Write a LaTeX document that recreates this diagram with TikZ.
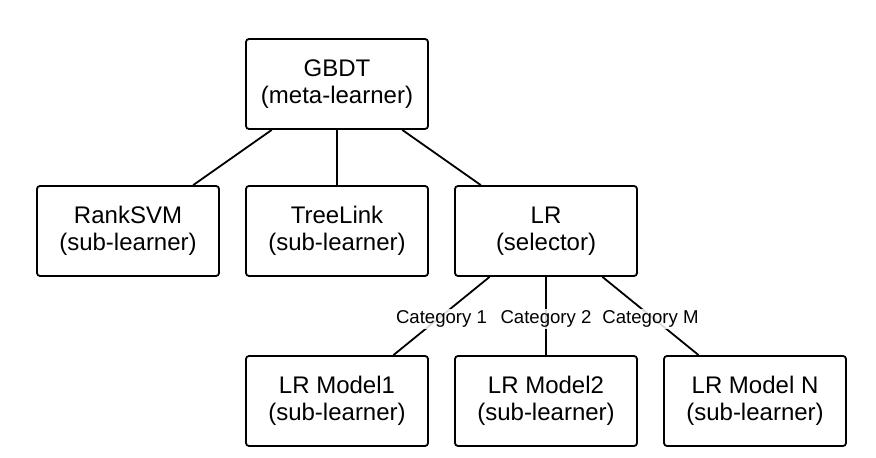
\documentclass[tikz,border=0pt]{standalone}
\usepackage{fontspec}
\setmainfont{Liberation Sans}

\begin{document}
\begin{tikzpicture}[x=0.5pt,y=-0.5pt,
		learner/.style={draw,line width=0.9pt,rounded corners=1.5pt,minimum width=91pt,minimum height=45pt,inner sep=0pt,align=center,font=\fontsize{12}{13.5}\selectfont},
		edge/.style={line width=0.9pt},
		catlabel/.style={fill=white,fill opacity=0.85,text opacity=1,inner sep=1pt,font=\fontsize{9.3}{11}\selectfont}]
			\useasboundingbox (0,0) rectangle (876,458);
			\node[learner] (gbdt) at (337,84) {GBDT\\(meta-learner)};
			\node[learner] (ranksvm) at (128,231) {RankSVM\\(sub-learner)};
			\node[learner] (treelink) at (337,231) {TreeLink\\(sub-learner)};
			\node[learner] (lr) at (546,231) {LR\\(selector)};
			\node[learner] (model1) at (337,401) {LR Model1\\(sub-learner)};
			\node[learner] (model2) at (546,401) {LR Model2\\(sub-learner)};
			\node[learner] (modeln) at (755,401) {LR Model N\\(sub-learner)};

			\draw[edge] (gbdt) -- (ranksvm);
			\draw[edge] (gbdt) -- (treelink);
			\draw[edge] (gbdt) -- (lr);
			\draw[edge] (lr) -- node[catlabel,yshift=-1.5pt] {Category 1} (model1);
			\draw[edge] (lr) -- node[catlabel,yshift=-1.5pt] {Category 2} (model2);
			\draw[edge] (lr) -- node[catlabel,yshift=-1.5pt] {Category M} (modeln);
		\end{tikzpicture}
\end{document}
